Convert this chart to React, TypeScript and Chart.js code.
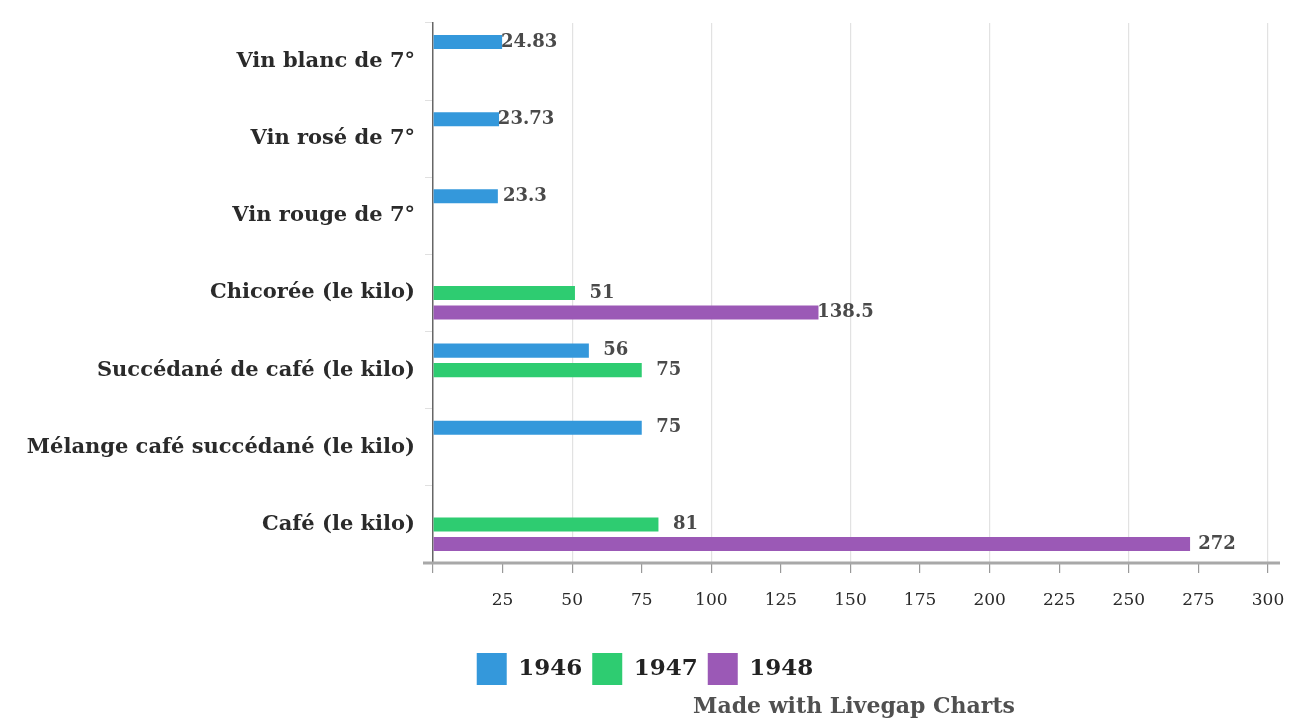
import React, { useEffect, useRef } from "react";
import { Chart, registerables } from "chart.js";

Chart.register(...registerables);

const categories = [
  "Vin blanc de 7°",
  "Vin rosé de 7°",
  "Vin rouge de 7°",
  "Chicorée (le kilo)",
  "Succédané de café (le kilo)",
  "Mélange café succédané (le kilo)",
  "Café (le kilo)",
];
const seriesNames = ["1946", "1947", "1948"];
const values1946 = [24.83, 23.73, 23.3, null, 56, 75, null];
const values1947 = [null, null, null, 51, 75, null, 81];
const values1948 = [null, null, null, 138.5, null, null, 272];
const colors = ["#3498db", "#2ecc71", "#9b59b6"];
const footerText = "Made with Livegap Charts";

const FONT = "'DejaVu Serif', serif";

const extrasPlugin = {
  id: "extras",
  afterDatasetsDraw(chart: any) {
    const ctx = chart.ctx;
    ctx.save();
    ctx.font = `bold 18px ${FONT}`;
    ctx.fillStyle = "#4a4a4a";
    ctx.textAlign = "center";
    ctx.textBaseline = "middle";
    chart.data.datasets.forEach((ds: any, i: number) => {
      const meta = chart.getDatasetMeta(i);
      meta.data.forEach((bar: any, j: number) => {
        const v = ds.data[j];
        if (v === null || v === undefined) return;
        ctx.fillText(String(v), bar.x + 27, bar.y);
      });
    });
    ctx.restore();
  },
  afterDraw(chart: any) {
    const ctx = chart.ctx;
    const area = chart.chartArea;
    ctx.save();
    ctx.strokeStyle = "#a8a8a8";
    ctx.lineWidth = 3;
    ctx.beginPath();
    ctx.moveTo(area.left - 10, area.bottom);
    ctx.lineTo(area.right + 12, area.bottom);
    ctx.stroke();
    ctx.font = `bold 22px ${FONT}`;
    ctx.fillStyle = "#505050";
    ctx.textAlign = "center";
    ctx.textBaseline = "middle";
    ctx.fillText(footerText, 854, 707);
    ctx.restore();
  },
};

export default function App() {
  const ref = useRef<HTMLCanvasElement | null>(null);
  useEffect(() => {
    if (!ref.current) return;
    const allValues = [values1946, values1947, values1948];
    const chart = new Chart(ref.current, {
      type: "bar",
      data: {
        labels: categories,
        datasets: seriesNames.map((name, i) => ({
          label: name,
          data: allValues[i],
          backgroundColor: colors[i],
          borderColor: colors[i],
          borderWidth: 0,
          categoryPercentage: 0.76,
          barPercentage: 0.72,
        })),
      },
      options: {
        indexAxis: "y",
        animation: false,
        responsive: false,
        layout: { padding: { top: 23, right: 22, bottom: 25, left: 22 } },
        plugins: {
          legend: {
            position: "bottom",
            labels: {
              boxWidth: 30,
              boxHeight: 32,
              padding: 10,
              color: "#222",
              font: { family: FONT, size: 23, weight: "bold" },
            },
          },
          tooltip: { enabled: false },
        },
        scales: {
          x: {
            min: 0,
            max: 300,
            ticks: {
              stepSize: 25,
              padding: 17,
              color: "#2a2a2a",
              font: { family: FONT, size: 17 },
              callback: (v: any) => (v === 0 ? "" : String(v)),
            },
            grid: {
              color: (c: any) =>
                c.tick && c.tick.value !== 0 && c.tick.value % 50 === 0
                  ? "#e2e2e2"
                  : "rgba(0,0,0,0)",
              tickColor: "#999",
              tickLength: 10,
              lineWidth: 1.2,
            },
            border: { display: false },
            afterFit: (scale: any) => {
              scale.height = 80;
              scale.paddingRight = 0;
              scale.paddingLeft = 0;
            },
          },
          y: {
            ticks: {
              color: "#2a2a2a",
              padding: 10,
              font: { family: FONT, size: 21, weight: "bold" },
            },
            grid: {
              drawOnChartArea: false,
              tickColor: "#e0e0e0",
              tickLength: 8,
            },
            border: { display: true, color: "#666", width: 1.5 },
            afterFit: (scale: any) => {
              scale.width = 411;
            },
          },
        },
      },
      plugins: [extrasPlugin],
    } as any);
    return () => chart.destroy();
  }, []);
  return (
    <div style={{ position: "fixed", left: 0, top: 0, width: 1290, height: 720, background: "#fff" }}>
      <canvas ref={ref} width={1290} height={720} style={{ width: 1290, height: 720 }} />
    </div>
  );
}
